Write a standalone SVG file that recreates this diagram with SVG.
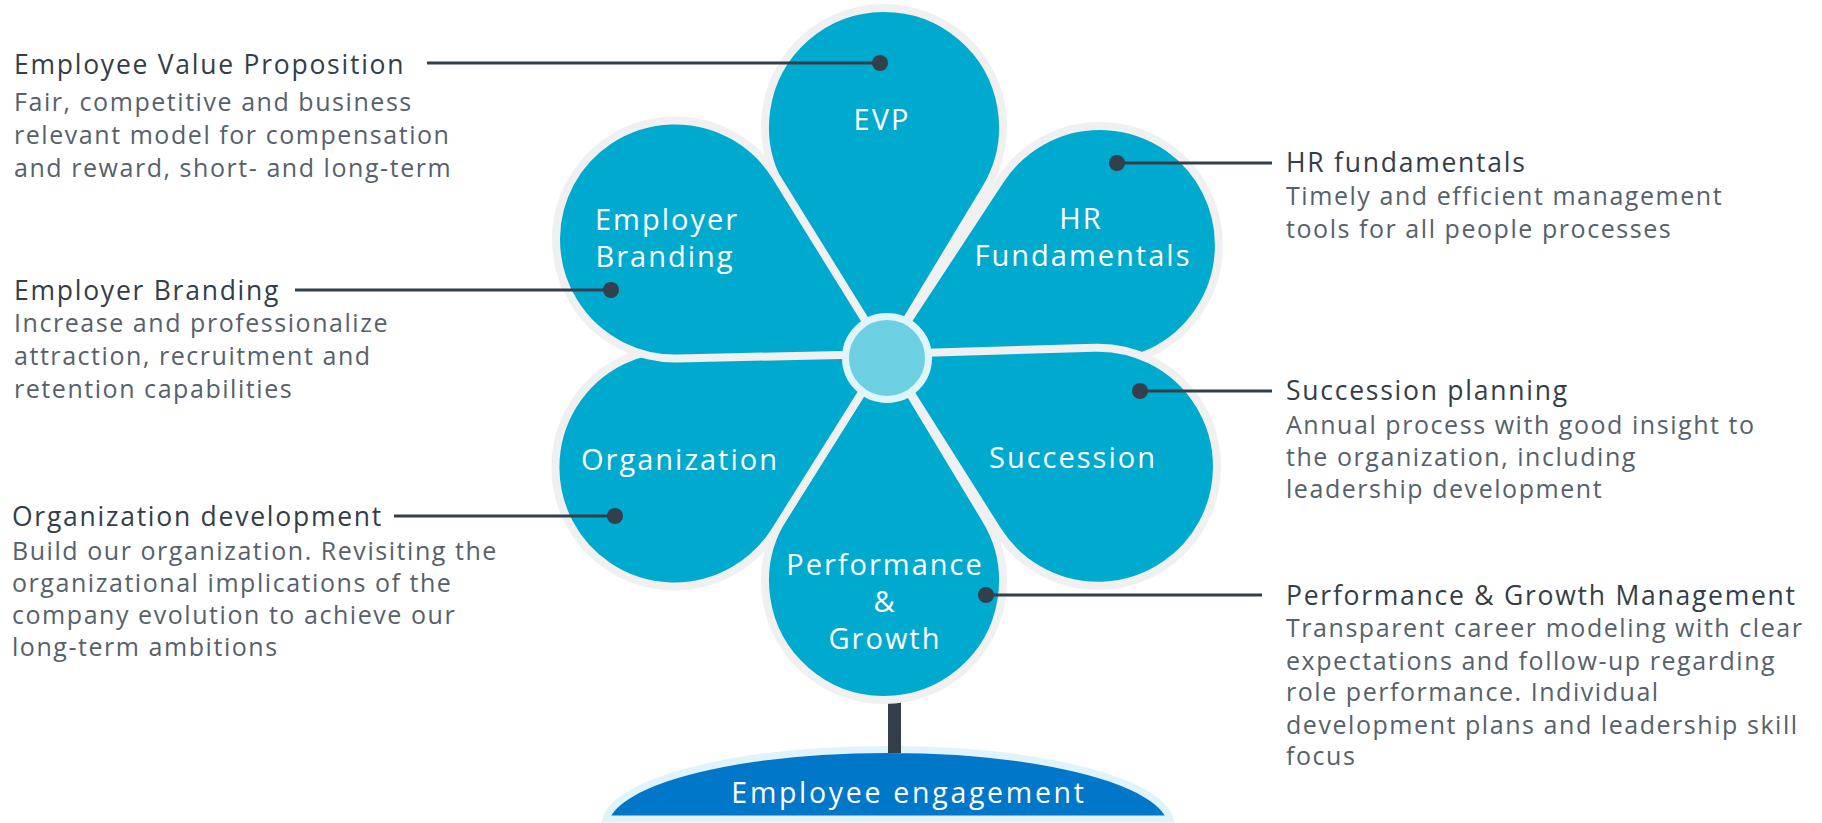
<svg xmlns="http://www.w3.org/2000/svg" width="1822" height="823" viewBox="0 0 1822 823">
<style>
.petal{fill:#00aacf;stroke:#f0f0f0;stroke-width:8;stroke-linejoin:round}
.pl{font-family:'Open Sans','Liberation Sans',sans-serif;font-size:29px;fill:#ffffff;text-anchor:middle;letter-spacing:2px}
.tt{font-family:'Open Sans','Liberation Sans',sans-serif;font-size:26.5px;fill:#333e48;letter-spacing:1.75px}
.ds{font-family:'Open Sans','Liberation Sans',sans-serif;font-size:25px;fill:#56616b;letter-spacing:1.55px}
.conn{stroke:#333f4a;stroke-width:3;fill:none}
.dot{fill:#333f4a}
</style>
<defs>
<path id="pv" d="M0,0 L-101.3,-164.6 A119,119 0 1 1 101.3,-164.6 Z"/>
<path id="ps" d="M0,0 L-103.3,-181 A119,119 0 1 1 103.3,-181 Z"/>
</defs>
<rect width="1822" height="823" fill="#ffffff"/>

<g id="ground">
<path d="M606,819 A283,76 0 0 1 1170,819 Z" fill="#0077c8" stroke="#dff3f8" stroke-width="7"/>
<text x="909" y="803" class="pl" style="font-size:28.5px;letter-spacing:2.7px">Employee engagement</text>
</g>
<g id="stem">
<rect x="888" y="698" width="13" height="55" fill="#333f48"/>
</g>

<g id="petal-evp">
<use href="#pv" class="petal" transform="translate(886,354) rotate(-0.5)"/>
<text x="882" y="130" class="pl">EVP</text>
</g>
<g id="petal-hr">
<use href="#ps" class="petal" transform="translate(886,354) rotate(63)"/>
<text x="1081" y="229" class="pl">HR</text>
<text x="1083" y="266" class="pl">Fundamentals</text>
</g>
<g id="petal-succession">
<use href="#ps" class="petal" transform="translate(886,354) rotate(118)"/>
<text x="1073" y="468" class="pl">Succession</text>
</g>
<g id="petal-performance">
<use href="#pv" class="petal" transform="translate(886,354) rotate(180.5)"/>
<text x="885" y="575" class="pl">Performance</text>
<text x="885" y="612" class="pl">&amp;</text>
<text x="885" y="649" class="pl">Growth</text>
</g>
<g id="petal-organization">
<use href="#ps" class="petal" transform="translate(886,354) rotate(241.8)"/>
<text x="680" y="470" class="pl">Organization</text>
</g>
<g id="petal-employer-branding">
<use href="#ps" class="petal" transform="translate(886,354) rotate(298.5)"/>
<text x="667" y="230" class="pl">Employer</text>
<text x="665" y="267" class="pl">Branding</text>
</g>
<g id="center">
<circle cx="887" cy="358" r="41.5" fill="#6dd0e2" stroke="#e0f5f9" stroke-width="7"/>
</g>

<g id="connectors">
<line class="conn" x1="427" y1="63" x2="880" y2="63"/>
<circle class="dot" cx="880" cy="63" r="8"/>
<line class="conn" x1="295" y1="290" x2="611" y2="290"/>
<circle class="dot" cx="611" cy="290" r="8"/>
<line class="conn" x1="394" y1="516" x2="615" y2="516"/>
<circle class="dot" cx="615" cy="516" r="8"/>
<line class="conn" x1="1117" y1="163" x2="1272" y2="163"/>
<circle class="dot" cx="1117" cy="163" r="8"/>
<line class="conn" x1="1140" y1="391" x2="1272" y2="391"/>
<circle class="dot" cx="1140" cy="391" r="8"/>
<line class="conn" x1="986" y1="595" x2="1262" y2="595"/>
<circle class="dot" cx="986" cy="595" r="8"/>
</g>

<g id="text-evp">
<text x="14" y="74" class="tt">Employee Value Proposition</text>
<text x="14" y="111" class="ds">Fair, competitive and business</text>
<text x="14" y="144" class="ds">relevant model for compensation</text>
<text x="14" y="177" class="ds">and reward, short- and long-term</text>
</g>
<g id="text-employer-branding">
<text x="14" y="300" class="tt">Employer Branding</text>
<text x="14" y="332" class="ds">Increase and professionalize</text>
<text x="14" y="365" class="ds">attraction, recruitment and</text>
<text x="14" y="398" class="ds">retention capabilities</text>
</g>
<g id="text-organization">
<text x="12" y="526" class="tt">Organization development</text>
<text x="12" y="560" class="ds">Build our organization. Revisiting the</text>
<text x="12" y="592" class="ds">organizational implications of the</text>
<text x="12" y="624" class="ds">company evolution to achieve our</text>
<text x="12" y="656" class="ds">long-term ambitions</text>
</g>
<g id="text-hr">
<text x="1286" y="172" class="tt">HR fundamentals</text>
<text x="1286" y="205" class="ds">Timely and efficient management</text>
<text x="1286" y="238" class="ds">tools for all people processes</text>
</g>
<g id="text-succession">
<text x="1286" y="400" class="tt">Succession planning</text>
<text x="1286" y="434" class="ds">Annual process with good insight to</text>
<text x="1286" y="466" class="ds">the organization, including</text>
<text x="1286" y="498" class="ds">leadership development</text>
</g>
<g id="text-performance">
<text x="1286" y="605" class="tt">Performance &amp; Growth Management</text>
<text x="1286" y="637" class="ds">Transparent career modeling with clear</text>
<text x="1286" y="670" class="ds">expectations and follow-up regarding</text>
<text x="1286" y="701" class="ds">role performance. Individual</text>
<text x="1286" y="734" class="ds">development plans and leadership skill</text>
<text x="1286" y="765" class="ds">focus</text>
</g>
</svg>
